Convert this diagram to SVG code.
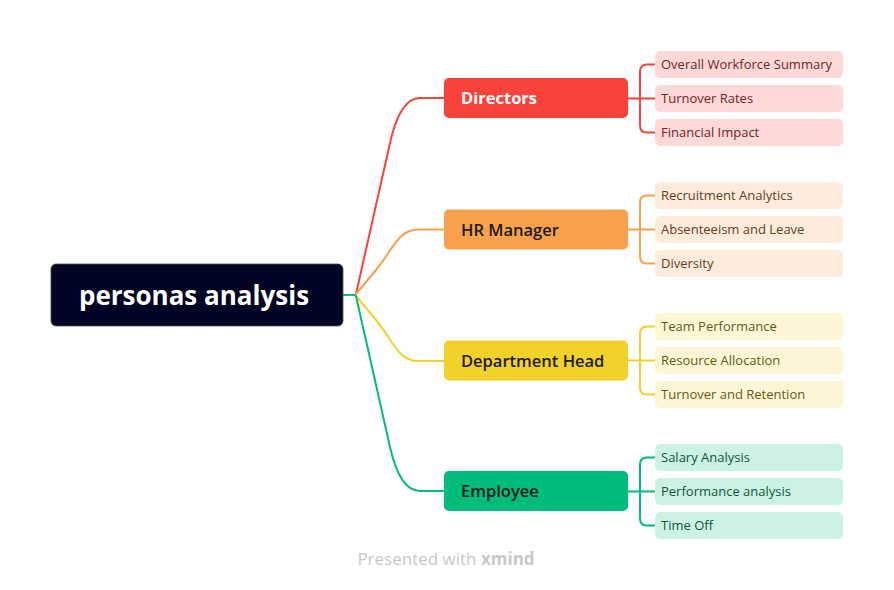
<svg xmlns="http://www.w3.org/2000/svg" width="894" height="590" viewBox="0 0 894 590">
<style>
.t{font-family:"Open Sans","Liberation Sans",sans-serif}
.root-t{font-size:26px;font-weight:700;fill:#ffffff}
.br-t{font-size:16.5px;font-weight:600;fill:#1a1a1a}
.lf-t{font-size:13px;font-weight:400}
.c{fill:none;stroke-width:2;stroke-linecap:round;stroke-linejoin:round}
</style>
<rect width="894" height="590" fill="#ffffff"/>
<g id="connectors">
<path class="c" d="M343,295 H356" stroke="#00BC7B"/>
<path class="c" d="M356,294 L390,143 Q400,98 420,98 H444" stroke="#F9423A"/>
<path class="c" d="M356,294 L376,270 C392,251 398,229.5 418,229.5 H444" stroke="#F7A14C"/>
<path class="c" d="M356,296 L376,320 C392,339 398,361 418,361 H444" stroke="#F2D22A"/>
<path class="c" d="M356,296 L390,447 Q400,491 420,491 H444" stroke="#00BC7B"/>
<g stroke="#F9423A"><path class="c" d="M628,98.5 H655"/><path class="c" d="M655,64.5 H647 Q640,64.5 640,71.5 V125.5 Q640,132.5 647,132.5 H655"/></g>
<g stroke="#F7A14C"><path class="c" d="M628,229.5 H655"/><path class="c" d="M655,195.5 H647 Q640,195.5 640,202.5 V256.5 Q640,263.5 647,263.5 H655"/></g>
<g stroke="#F2D22A"><path class="c" d="M628,360.5 H655"/><path class="c" d="M655,326.5 H647 Q640,326.5 640,333.5 V387.5 Q640,394.5 647,394.5 H655"/></g>
<g stroke="#00BC7B"><path class="c" d="M628,491.5 H655"/><path class="c" d="M655,457.5 H647 Q640,457.5 640,464.5 V518.5 Q640,525.5 647,525.5 H655"/></g>
</g>
<g id="root">
<rect x="51" y="264" width="292" height="62" rx="5" fill="#020426" stroke="#4a4c66" stroke-width="0.8"/>
<text class="t root-t" x="194" y="304.5" text-anchor="middle">personas analysis</text>
</g>
<g id="directors">
<rect x="444" y="78" width="184" height="40" rx="5" fill="#F9423A"/>
<text class="t br-t" x="461" y="104" style="fill:#ffffff;font-weight:700">Directors</text>
</g>
<g id="hr-manager">
<rect x="444" y="209.5" width="184" height="40" rx="5" fill="#F7A14C"/>
<text class="t br-t" x="461" y="235.5">HR Manager</text>
</g>
<g id="department-head">
<rect x="444" y="340.5" width="184" height="40" rx="5" fill="#F2D22A"/>
<text class="t br-t" x="461" y="366.5">Department Head</text>
</g>
<g id="employee">
<rect x="444" y="471" width="184" height="40" rx="5" fill="#00BC7B"/>
<text class="t br-t" x="461" y="497">Employee</text>
</g>
<g id="d1"><rect x="655" y="51" width="188" height="27" rx="5" fill="#FFD9D8"/><text class="t lf-t" x="661" y="69" fill="#6E2623">Overall Workforce Summary</text></g>
<g id="d2"><rect x="655" y="85" width="188" height="27" rx="5" fill="#FFD9D8"/><text class="t lf-t" x="661" y="103" fill="#6E2623">Turnover Rates</text></g>
<g id="d3"><rect x="655" y="119" width="188" height="27" rx="5" fill="#FFD9D8"/><text class="t lf-t" x="661" y="137" fill="#6E2623">Financial Impact</text></g>
<g id="h1"><rect x="655" y="182" width="188" height="27" rx="5" fill="#FDECDB"/><text class="t lf-t" x="661" y="200" fill="#63401F">Recruitment Analytics</text></g>
<g id="h2"><rect x="655" y="216" width="188" height="27" rx="5" fill="#FDECDB"/><text class="t lf-t" x="661" y="234" fill="#63401F">Absenteeism and Leave</text></g>
<g id="h3"><rect x="655" y="250" width="188" height="27" rx="5" fill="#FDECDB"/><text class="t lf-t" x="661" y="268" fill="#63401F">Diversity</text></g>
<g id="p1"><rect x="655" y="313" width="188" height="27" rx="5" fill="#FCF6D4"/><text class="t lf-t" x="661" y="331" fill="#665A18">Team Performance</text></g>
<g id="p2"><rect x="655" y="347" width="188" height="27" rx="5" fill="#FCF6D4"/><text class="t lf-t" x="661" y="365" fill="#665A18">Resource Allocation</text></g>
<g id="p3"><rect x="655" y="381" width="188" height="27" rx="5" fill="#FCF6D4"/><text class="t lf-t" x="661" y="399" fill="#665A18">Turnover and Retention</text></g>
<g id="e1"><rect x="655" y="444" width="188" height="27" rx="5" fill="#CCF2E5"/><text class="t lf-t" x="661" y="462" fill="#0F563A">Salary Analysis</text></g>
<g id="e2"><rect x="655" y="478" width="188" height="27" rx="5" fill="#CCF2E5"/><text class="t lf-t" x="661" y="496" fill="#0F563A">Performance analysis</text></g>
<g id="e3"><rect x="655" y="512" width="188" height="27" rx="5" fill="#CCF2E5"/><text class="t lf-t" x="661" y="530" fill="#0F563A">Time Off</text></g>
<text class="t" x="446" y="565" text-anchor="middle" font-size="17" fill="#c8c8c8">Presented with <tspan font-weight="700">xmind</tspan></text>
</svg>
